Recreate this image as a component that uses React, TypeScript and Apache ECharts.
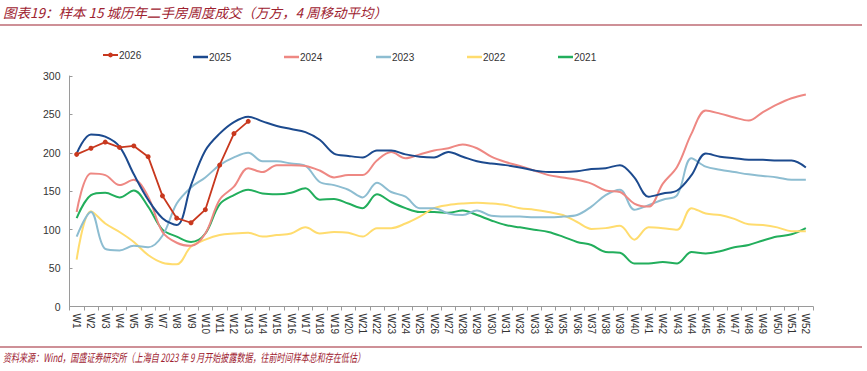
import React, { useEffect, useRef } from "react";
import * as echarts from "echarts";

const weeks = [
  "W1", "W2", "W3", "W4", "W5", "W6", "W7", "W8", "W9", "W10",
  "W11", "W12", "W13", "W14", "W15", "W16", "W17", "W18", "W19", "W20",
  "W21", "W22", "W23", "W24", "W25", "W26", "W27", "W28", "W29", "W30",
  "W31", "W32", "W33", "W34", "W35", "W36", "W37", "W38", "W39", "W40",
  "W41", "W42", "W43", "W44", "W45", "W46", "W47", "W48", "W49", "W50",
  "W51", "W52",
];

const seriesNames = ["2026", "2025", "2024", "2023", "2022", "2021"];

const s2026 = [198, 206, 214, 207, 209, 195, 144, 115, 109, 126, 184, 225, 241];

const s2025 = [
  199, 224, 221, 208, 172, 139, 115, 106, 158, 203, 225, 240, 247,
  241, 235, 231, 227, 217, 199, 196, 194, 203, 203, 198, 195, 194, 201,
  195, 189, 186, 184, 181, 177, 175, 175, 176, 179, 180, 184,
  168, 143, 147, 151, 171, 199, 195, 193, 191, 191, 190, 190, 181,
];

const s2024 = [
  123, 173, 171, 158, 165, 143, 97, 83, 79, 95, 139, 156, 180,
  175, 184, 184, 183, 177, 168, 171, 171, 190, 201, 193, 198, 203, 206,
  211, 206, 195, 188, 183, 177, 171, 168, 165, 160, 151, 149,
  134, 130, 160, 182, 225, 255, 251, 246, 242, 253, 263, 271, 276,
];

const s2023 = [
  91, 123, 75, 73, 79, 77, 92, 134, 155, 168, 184, 194, 200,
  189, 189, 186, 183, 162, 158, 152, 142, 161, 149, 143, 128, 128, 121,
  119, 125, 118, 117, 117, 116, 116, 117, 119, 130, 145, 152,
  126, 132, 139, 145, 193, 182, 178, 175, 172, 170, 168, 165, 165,
];

const s2022 = [
  61, 124, 108, 97, 84, 67, 57, 55, 78, 87, 93, 95, 96,
  91, 93, 95, 103, 95, 97, 96, 91, 102, 102, 108, 117, 128, 132,
  134, 135, 134, 132, 128, 126, 123, 119, 110, 101, 102, 105,
  87, 103, 102, 100, 128, 121, 119, 114, 107, 106, 103, 98, 98,
];

const s2021 = [
  115, 145, 148, 142, 151, 130, 100, 91, 84, 95, 133, 145, 152,
  147, 146, 148, 154, 139, 140, 134, 128, 146, 136, 128, 123, 123, 122,
  125, 119, 112, 106, 103, 100, 97, 91, 84, 80, 71, 70,
  56, 56, 58, 56, 71, 69, 72, 77, 80, 86, 91, 94, 102,
];

const seriesData = [s2026, s2025, s2024, s2023, s2022, s2021];
const colors = ["#C8381E", "#1C4A8E", "#EE8883", "#8DBDD1", "#FFDC6E", "#22AE5C"];

const titleText = "图表19：样本 15 城历年二手房周度成交（万方，4 周移动平均）";
const footerText =
  "资料来源：Wind，国盛证券研究所（上海自 2023 年 9 月开始披露数据，往前时间样本总和存在低估）";

export default function App() {
  const ref = useRef<HTMLDivElement>(null);

  useEffect(() => {
    const chart = echarts.init(ref.current!, null, { renderer: "svg" });
    const legendLefts = [97, 188, 279, 371, 462, 553];
    const darkRed = "#9E2230";

    const option: any = {
      animation: false,
      backgroundColor: "#ffffff",
      color: colors,
      grid: { left: 69.5, right: 54, top: 76, bottom: 64.5, containLabel: false },
      legend: seriesNames.map((n, i) => ({
        data: i === 0 ? [n] : [{ name: n, icon: "rect" }],
        left: legendLefts[i],
        top: i === 0 ? 45 : 47,
        itemWidth: 15,
        itemHeight: i === 0 ? 6 : 2.5,
        itemGap: 0,
        textStyle: {
          fontSize: 10,
          fontFamily: "'Liberation Sans Narrow', 'Liberation Sans', Arial",
          color: "#333",
          padding: [0, 0, 0, -4],
        },
      })),
      xAxis: {
        type: "category",
        data: weeks,
        boundaryGap: true,
        axisLine: { lineStyle: { color: "#9a9a9a", width: 1 } },
        axisTick: { show: true, length: 4, lineStyle: { color: "#9a9a9a" } },
        axisLabel: {
          rotate: -90,
          interval: 0,
          fontSize: 10,
          color: "#333",
          margin: 7,
          fontFamily: "'Liberation Sans', Arial",
        },
        splitLine: { show: false },
      },
      yAxis: {
        type: "value",
        min: 0,
        max: 300,
        interval: 50,
        axisLine: { show: true, lineStyle: { color: "#9a9a9a", width: 1 } },
        axisTick: { show: true, inside: true, length: 3, lineStyle: { color: "#9a9a9a" } },
        axisLabel: { fontSize: 10.5, color: "#333", margin: 9, fontFamily: "'Liberation Sans', Arial" },
        splitLine: { show: false },
      },
      series: seriesNames.map((n, i) => {
        const isNew = i === 0;
        return {
          name: n,
          type: "line",
          data: seriesData[i],
          smooth: isNew ? false : 0.35,
          symbol: isNew ? "circle" : "none",
          symbolSize: isNew ? 5 : 0,
          showSymbol: isNew,
          z: 10 - i,
          lineStyle: { color: colors[i], width: isNew ? 1.8 : 2 },
          itemStyle: { color: colors[i] },
          emphasis: { disabled: true },
        };
      }),
      graphic: [
        {
          type: "text",
          x: 3,
          y: 12,
          style: {
            text: titleText,
            fill: darkRed,
            fontSize: 13.5,
            fontStyle: "italic",
            fontFamily: "'Noto Sans CJK SC', sans-serif",
            verticalAlign: "middle",
            align: "left",
          },
        },
        {
          type: "line",
          shape: { x1: 0, y1: 25, x2: 862, y2: 25 },
          style: { stroke: darkRed, lineWidth: 1.2 },
        },
        {
          type: "line",
          shape: { x1: 0, y1: 347, x2: 862, y2: 347 },
          style: { stroke: darkRed, lineWidth: 1.2 },
        },
        {
          type: "text",
          x: 3,
          y: 357,
          scaleX: 0.7,
          style: {
            text: footerText,
            fill: darkRed,
            fontSize: 11.5,
            fontStyle: "italic",
            fontFamily: "'Noto Sans CJK SC', sans-serif",
            verticalAlign: "middle",
            align: "left",
          },
        },
      ],
    };

    chart.setOption(option);
    return () => chart.dispose();
  }, []);

  return (
    <div
      ref={ref}
      style={{ position: "fixed", left: 0, top: 0, width: 867, height: 371, background: "#fff" }}
    />
  );
}
